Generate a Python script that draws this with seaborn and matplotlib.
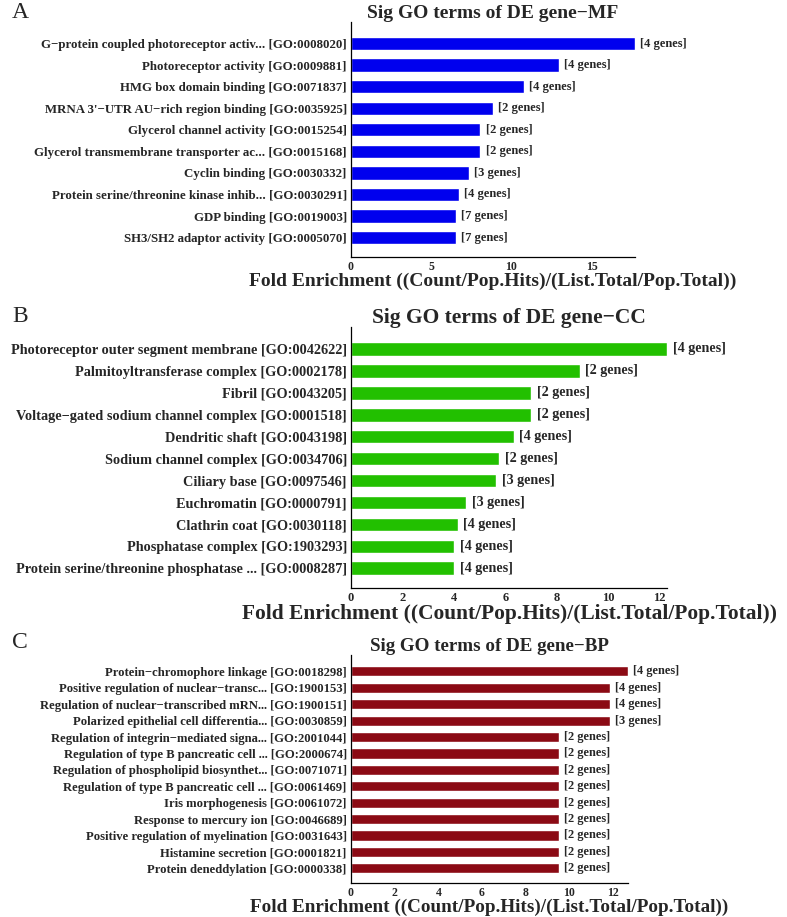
import matplotlib
matplotlib.use("Agg")
import matplotlib.pyplot as plt
import seaborn as sns


mf_terms=["G\u2212protein coupled photoreceptor activ... [GO:0008020]",
          "Photoreceptor activity [GO:0009881]",
          "HMG box domain binding [GO:0071837]",
          "MRNA 3'\u2212UTR AU\u2212rich region binding [GO:0035925]",
          "Glycerol channel activity [GO:0015254]",
          "Glycerol transmembrane transporter ac... [GO:0015168]",
          "Cyclin binding [GO:0030332]",
          "Protein serine/threonine kinase inhib... [GO:0030291]",
          "GDP binding [GO:0019003]",
          "SH3/SH2 adaptor activity [GO:0005070]"]
mf_fold=[17.7,12.94,10.79,8.82,8.07,8.07,7.34,6.74,6.53,6.53]
mf_genes=[4,4,4,2,2,2,3,4,7,7]

cc_terms=["Photoreceptor outer segment membrane [GO:0042622]",
          "Palmitoyltransferase complex [GO:0002178]",
          "Fibril [GO:0043205]",
          "Voltage\u2212gated sodium channel complex [GO:0001518]",
          "Dendritic shaft [GO:0043198]",
          "Sodium channel complex [GO:0034706]",
          "Ciliary base [GO:0097546]",
          "Euchromatin [GO:0000791]",
          "Clathrin coat [GO:0030118]",
          "Phosphatase complex [GO:1903293]",
          "Protein serine/threonine phosphatase ... [GO:0008287]"]
cc_fold=[12.28,8.88,6.99,6.99,6.32,5.76,5.65,4.47,4.15,4.0,4.0]
cc_genes=[4,2,2,2,4,2,3,3,4,4,4]

bp_terms=["Protein\u2212chromophore linkage [GO:0018298]",
          "Positive regulation of nuclear\u2212transc... [GO:1900153]",
          "Regulation of nuclear\u2212transcribed mRN... [GO:1900151]",
          "Polarized epithelial cell differentia... [GO:0030859]",
          "Regulation of integrin\u2212mediated signa... [GO:2001044]",
          "Regulation of type B pancreatic cell ... [GO:2000674]",
          "Regulation of phospholipid biosynthet... [GO:0071071]",
          "Regulation of type B pancreatic cell ... [GO:0061469]",
          "Iris morphogenesis [GO:0061072]",
          "Response to mercury ion [GO:0046689]",
          "Positive regulation of myelination [GO:0031643]",
          "Histamine secretion [GO:0001821]",
          "Protein deneddylation [GO:0000338]"]
bp_fold=[12.69,11.85,11.85,11.85,9.52,9.52,9.52,9.52,9.52,9.52,9.52,9.52,9.52]
bp_genes=[4,4,4,3,2,2,2,2,2,2,2,2,2]

W,H=787,917


def draw_panel(fig,box,terms,fold,genes,color,title,letter,letter_y,xticks,sizes,xlabelpad):
    ylab_size,gene_size,tick_size,title_size,xlabel_size=sizes
    left,right,top,bottom=box
    ax=fig.add_axes([left/W,1-bottom/H,(right-left)/W,(bottom-top)/H])
    sns.barplot(x=fold,y=terms,orient="h",color=color,width=0.62,saturation=1,ax=ax)
    n=len(terms)
    ax.set_ylim(n-0.1,-1.0)
    ax.set_xlim(0,max(fold))
    for i,(v,g) in enumerate(zip(fold,genes)):
        ax.text(v+max(fold)*0.018,i,f"[{g} genes]",va="center",ha="left",fontsize=gene_size,fontweight="bold")
    ax.set_xticks(xticks)
    ax.tick_params(axis="x",labelsize=tick_size,length=2,width=0.8,pad=1,color="black")
    ax.tick_params(axis="y",labelsize=ylab_size,length=0,pad=3)
    for lab in ax.get_yticklabels():
        lab.set_fontweight("bold")
    for lab in ax.get_xticklabels():
        lab.set_fontweight("bold")
    sns.despine(ax=ax)
    for side in ["left","bottom"]:
        ax.spines[side].set_linewidth(0.9)
        ax.spines[side].set_color("black")
    ax.set_ylabel("")
    ax.set_xlabel("Fold Enrichment ((Count/Pop.Hits)/(List.Total/Pop.Total))",
                  fontsize=xlabel_size,fontweight="bold",labelpad=xlabelpad)
    ax.set_title(title,fontsize=title_size,fontweight="bold",pad=3)
    fig.text(12/W,1-letter_y/H,letter,fontsize=17,va="center",ha="left")
    return ax


def main():
    sns.set_style("white")
    plt.rcParams["font.family"]=["Liberation Serif","DejaVu Serif"]
    fig=plt.figure(figsize=(W/100,H/100),dpi=100)

    draw_panel(fig,(351,635,22,257),mf_terms,mf_fold,mf_genes,"#0000ee",
               "Sig GO terms of DE gene\u2212MF","A",12,[0,5,10,15],
               (9.3,9.0,8.5,14,14),0)
    draw_panel(fig,(351,667,327,588),cc_terms,cc_fold,cc_genes,"#22c000",
               "Sig GO terms of DE gene\u2212CC","B",317,[0,2,4,6,8,10,12],
               (10.3,10.2,9.0,15.5,15.4),0)
    draw_panel(fig,(351,628,655,883),bp_terms,bp_fold,bp_genes,"#8b0a14",
               "Sig GO terms of DE gene\u2212BP","C",643,[0,2,4,6,8,10,12],
               (9.1,8.9,8.5,13.7,13.8),0)

    fig.savefig("out.png",dpi=100)
    plt.close(fig)


if __name__=="__main__":
    main()
